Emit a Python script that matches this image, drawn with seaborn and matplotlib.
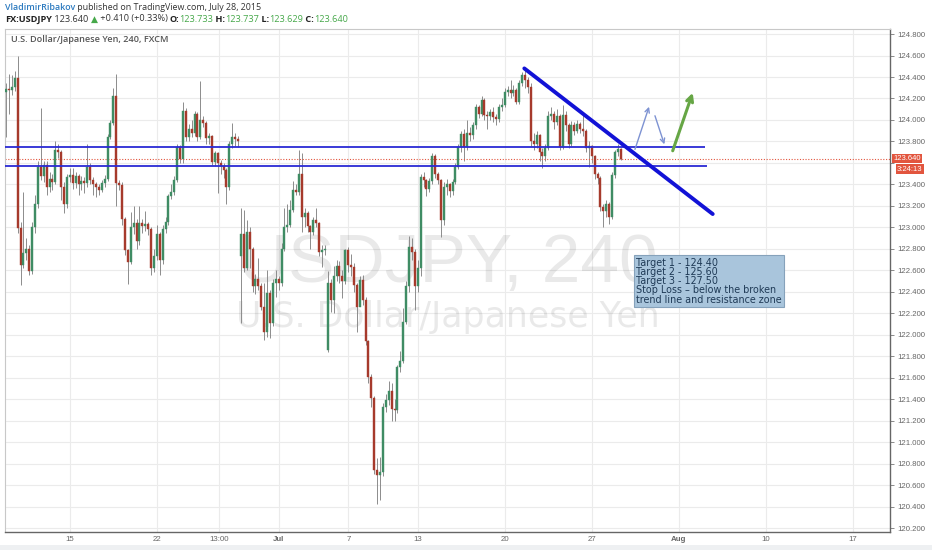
import matplotlib
matplotlib.use('Agg')
import matplotlib.pyplot as plt
import matplotlib.transforms as mtransforms
from matplotlib.patches import Rectangle
import numpy as np
import seaborn as sns

# USD/JPY 240-minute bars (FXCM), Jun 9 - Jul 28 2015
first_open = 124.26
closes = [
    124.29, 124.28, 124.31, 124.39, 122.99, 122.65, 122.76, 122.80, 122.59, 123.00,
    123.22, 123.56, 123.48, 123.58, 123.38, 123.45, 123.42, 123.72, 123.70, 123.38,
    123.22, 123.47, 123.49, 123.41, 123.48, 123.40, 123.43, 123.41, 123.56, 123.44,
    123.40, 123.38, 123.35, 123.41, 123.45, 123.84, 123.97, 124.22, 123.41, 123.39,
    123.08, 122.79, 122.68, 123.00, 123.04, 122.87, 123.04, 123.01, 123.03, 122.98,
    122.62, 122.73, 122.94, 122.70, 122.98, 123.05, 123.29, 123.33, 123.44, 123.75,
    123.64, 124.08, 123.84, 123.92, 123.88, 124.06, 123.84, 124.00, 123.97, 123.83,
    123.85, 123.61, 123.69, 123.60, 123.57, 123.53, 123.38, 123.78, 123.84, 123.82,
    123.80, 122.94, 122.62, 122.96, 122.80, 122.45, 122.52, 122.45, 122.26, 122.03,
    122.39, 122.11, 122.48, 122.52, 122.48, 122.80, 123.00, 123.02, 123.16, 123.35,
    123.33, 123.50, 123.10, 123.13, 123.01, 122.96, 123.07, 123.04, 122.77, 122.79,
    122.80, 122.48, 122.32, 122.55, 122.64, 122.55, 122.50, 122.79, 122.65, 122.63,
    122.46, 122.26, 122.51, 122.32, 121.94, 121.61, 121.41, 120.74, 120.69, 120.72,
    121.33, 121.39, 121.48, 121.31, 121.30, 121.70, 121.76, 122.12, 122.45, 122.82,
    122.77, 122.45, 122.62, 123.47, 123.44, 123.36, 123.43, 123.66, 123.50, 123.44,
    123.07, 123.38, 123.40, 123.34, 123.42, 123.56, 123.75, 123.87, 123.75, 123.88,
    123.86, 123.95, 124.12, 124.06, 124.19, 124.05, 124.04, 124.07, 124.03, 124.01,
    124.12, 124.14, 124.26, 124.28, 124.25, 124.28, 124.17, 124.34, 124.42, 124.37,
    124.31, 123.80, 123.78, 123.86, 123.70, 123.66, 123.74, 124.04, 124.06, 123.98,
    124.04, 123.75, 124.05, 123.95, 123.78, 123.95, 123.90, 123.96, 123.92, 123.90,
    123.74, 123.76, 123.66, 123.50, 123.46, 123.19, 123.15, 123.22, 123.10, 123.49,
    123.70, 123.733, 123.640,
]
highs = [
    124.34, 124.43, 124.42, 124.46, 124.60, 123.05, 123.33, 122.90, 122.84, 123.05,
    123.30, 123.62, 124.11, 123.62, 123.62, 123.52, 123.50, 123.80, 123.78, 123.72,
    123.42, 123.50, 123.55, 123.55, 123.52, 123.50, 123.48, 123.47, 123.78, 123.60,
    123.47, 123.42, 123.40, 123.44, 123.49, 123.87, 124.00, 124.30, 124.43, 123.44,
    123.42, 123.10, 122.80, 123.14, 123.20, 123.08, 123.20, 123.08, 123.15, 123.05,
    123.00, 122.80, 123.02, 122.96, 123.02, 123.10, 123.31, 123.40, 123.48, 123.78,
    123.77, 124.17, 124.11, 123.96, 124.00, 124.08, 124.07, 124.36, 124.04, 123.99,
    123.88, 123.86, 123.71, 123.70, 123.63, 123.60, 123.55, 123.80, 123.97, 123.88,
    123.85, 123.18, 123.16, 123.07, 123.00, 122.82, 122.57, 122.71, 122.48, 122.48,
    122.60, 122.42, 122.52, 122.60, 122.55, 122.85, 123.18, 123.22, 123.25, 123.43,
    123.40, 123.72, 123.69, 123.18, 123.15, 123.02, 123.10, 123.18, 123.05, 122.84,
    122.84, 122.59, 122.52, 122.64, 122.70, 122.69, 122.60, 122.80, 122.82, 122.75,
    122.67, 122.48, 122.55, 122.56, 122.35, 121.95, 121.63, 121.43, 120.85, 120.86,
    121.36, 121.45, 121.57, 121.55, 121.40, 121.72, 121.85, 122.25, 122.50, 122.92,
    122.90, 122.80, 122.70, 123.50, 123.52, 123.45, 123.46, 123.69, 123.68, 123.52,
    123.45, 123.42, 123.45, 123.41, 123.45, 123.60, 123.78, 123.90, 123.92, 124.00,
    123.93, 123.98, 124.15, 124.14, 124.22, 124.20, 124.08, 124.10, 124.12, 124.06,
    124.15, 124.20, 124.30, 124.32, 124.37, 124.33, 124.30, 124.37, 124.45, 124.47,
    124.40, 124.34, 123.88, 123.90, 123.87, 123.74, 123.78, 124.08, 124.12, 124.08,
    124.10, 124.06, 124.14, 124.08, 123.97, 123.99, 123.98, 124.00, 123.98, 124.05,
    123.92, 123.80, 123.77, 123.67, 123.52, 123.48, 123.22, 123.25, 123.24, 123.52,
    123.72, 123.78, 123.737,
]
lows = [
    123.84, 124.06, 124.23, 124.27, 122.95, 122.46, 122.62, 122.70, 122.56, 122.57,
    122.95, 123.18, 123.44, 123.42, 123.30, 123.33, 123.35, 123.40, 123.65, 123.25,
    123.13, 123.18, 123.42, 123.36, 123.37, 123.30, 123.35, 123.32, 123.38, 123.40,
    123.30, 123.28, 123.30, 123.33, 123.38, 123.43, 123.82, 123.95, 123.20, 123.35,
    123.02, 122.74, 122.47, 122.66, 122.94, 122.80, 122.84, 122.95, 122.97, 122.93,
    122.56, 122.58, 122.70, 122.56, 122.66, 122.95, 123.02, 123.26, 123.30, 123.42,
    123.60, 123.60, 123.80, 123.80, 123.84, 123.85, 123.80, 123.82, 123.93, 123.78,
    123.78, 123.58, 123.57, 123.32, 123.50, 123.46, 123.22, 123.35, 123.74, 123.76,
    123.75, 122.11, 122.58, 122.60, 122.62, 122.40, 122.38, 122.42, 122.23, 121.95,
    121.98, 121.97, 122.08, 122.35, 122.42, 122.45, 122.78, 122.96, 123.00, 123.14,
    123.30, 123.30, 122.96, 123.00, 122.96, 122.80, 122.93, 123.00, 122.73, 122.63,
    122.74, 121.84, 122.21, 122.20, 122.50, 122.48, 122.34, 122.47, 122.58, 122.55,
    122.40, 122.03, 122.30, 122.28, 121.90, 121.55, 121.33, 120.70, 120.42, 120.46,
    120.68, 121.28, 121.35, 121.20, 121.20, 121.27, 121.65, 121.74, 122.10, 122.40,
    122.70, 122.23, 122.40, 122.55, 123.38, 123.29, 123.33, 123.40, 123.46, 123.40,
    122.91, 123.02, 123.30, 123.28, 123.30, 123.40, 123.54, 123.70, 123.62, 123.72,
    123.80, 123.82, 123.92, 124.02, 124.04, 124.00, 123.92, 124.00, 123.98, 123.95,
    123.98, 124.08, 124.12, 124.22, 124.20, 124.22, 124.15, 124.15, 124.32, 124.30,
    124.25, 123.76, 123.72, 123.74, 123.62, 123.55, 123.62, 123.72, 124.00, 123.92,
    123.95, 123.72, 123.73, 123.90, 123.74, 123.76, 123.86, 123.88, 123.88, 123.85,
    123.70, 123.56, 123.60, 123.45, 123.40, 123.15, 123.00, 123.10, 123.03, 123.08,
    123.46, 123.66, 123.629,
]
# bars that open with a weekend gap (bar index -> open)
gap_opens = {81: 122.73, 111: 121.86}

# x axis in trading days counted from Mon Jun 15, weekends skipped
first_bar_day = -3.68
bars_per_day = 6
tick_days = [0, 5, 8.54, 12, 16, 20, 25, 30, 35, 40, 45]
tick_labels = ['15', '22', '13:00', 'Jul', '7', '13', '20', '27', 'Aug', '10', '17']
price_ticks = np.round(np.arange(120.2, 124.81, 0.2), 1)

# drawings on the chart
resistance_levels = [123.745, 123.574]
resistance_end_days = [36.5, 36.6]
trend_days = [26.11, 36.94]
trend_prices = [124.48, 123.124]
blue_arrows = [((32.47, 123.726), (33.28, 124.123)),
               ((33.62, 124.039), (34.16, 123.773))]
green_arrow = ((34.64, 123.713), (35.79, 124.253))
last_price = 123.640
countdown = '3:24:13'
note = ('Target 1 - 124.40\nTarget 2 - 125.60\nTarget 3 - 127.50\n'
        'Stop Loss \u2013 below the broken\ntrend line and resistance zone')

sns.set_style('white')
plt.rcParams['font.family'] = ['Open Sans', 'DejaVu Sans']

W, H = 932, 550
fig = plt.figure(figsize=(W / 100, H / 100), dpi=100)
ax = fig.add_axes([5 / W, 1 - 532 / H, 885 / W, 503 / H])
xmin, xmax = -3.74, 47.13
ax.set_xlim(xmin, xmax)
ax.set_ylim(120.163, 124.847)

# build opens: each bar opens where the previous one closed, except gaps
opens = []
prev = first_open
for i, c in enumerate(closes):
    opens.append(gap_opens.get(i, prev))
    prev = c
o = np.array(opens)
c = np.array(closes)
x = first_bar_day + np.arange(len(closes)) / bars_per_day
colors = np.where(c >= o, '#3f8c64', '#a63a2c')

ax.vlines(x, lows, highs, color='#8c8c8c', lw=0.7, zorder=2)
ax.bar(x, np.maximum(np.abs(c - o), 0.007), bottom=np.minimum(o, c), width=0.115,
       color=colors, edgecolor=colors, lw=0.3, zorder=3)

# watermark
ax.text(0.5, 0.497, 'USDJPY, 240', transform=ax.transAxes, ha='center', va='baseline',
        fontsize=50, family='Liberation Sans', color='black', alpha=0.085, zorder=1)
ax.text(0.5, 0.4076, 'U.S. Dollar/Japanese Yen', transform=ax.transAxes, ha='center',
        va='baseline', fontsize=25, family='DejaVu Sans', color='black', alpha=0.085, zorder=1)

# current price line
ax.axhline(last_price, color='#e2553e', lw=0.8, ls=(0, (1, 1.5)), zorder=2.5)

# resistance zone and trend line
for lvl, end in zip(resistance_levels, resistance_end_days):
    ax.hlines(lvl, xmin, end, color='#2a2ad4', lw=1.3, zorder=4)
sns.lineplot(x=trend_days, y=trend_prices, ax=ax, color='#1212d6', lw=2.8, zorder=5)

for start, end in blue_arrows:
    ax.annotate('', xy=end, xytext=start, zorder=5,
                arrowprops=dict(arrowstyle='->', color='#7d92d2', lw=1.0,
                                mutation_scale=8, shrinkA=0, shrinkB=0))
ax.annotate('', xy=green_arrow[1], xytext=green_arrow[0], zorder=5,
            arrowprops=dict(arrowstyle='->', color='#66a645', lw=2.2,
                            mutation_scale=11, shrinkA=0, shrinkB=0))

ax.text(32.53, 122.716, note, fontsize=6.9, family='DejaVu Sans', color='#1f3a56',
        va='top', ha='left', linespacing=0.9, zorder=6,
        bbox=dict(boxstyle='square,pad=0.25', facecolor='#a9c5dc', edgecolor='#86a2bb', lw=0.8))

# axes, grid, ticks
ax.set_xticks(tick_days)
ax.set_xticklabels(tick_labels)
ax.set_yticks(price_ticks)
# the 123.600 label sits under the last-price badge, so it is left blank
ax.set_yticklabels(['' if abs(p - 123.6) < 1e-6 else '{:.3f}'.format(p) for p in price_ticks])
ax.yaxis.tick_right()
ax.set_axisbelow(True)
ax.grid(True, color='#ebebeb', lw=0.8)
ax.tick_params(axis='y', which='both', right=True, length=3, width=0.6, color='#777',
               pad=2, labelsize=5.6, labelcolor='#666')
ax.tick_params(axis='x', length=0, pad=3, labelsize=5.7, labelcolor='#666')
for lab in ax.get_xticklabels() + ax.get_yticklabels():
    lab.set_family('Liberation Sans')
for lab in ax.get_xticklabels():
    if lab.get_text() in ('Jul', 'Aug'):
        lab.set_fontweight('bold')
for side in ('right', 'bottom'):
    ax.spines[side].set_color('#666')
    ax.spines[side].set_linewidth(1.0)
for side in ('top', 'left'):
    ax.spines[side].set_color('#c8c8c8')
    ax.spines[side].set_linewidth(0.8)

# price and countdown badges on the price scale
blend = mtransforms.blended_transform_factory(ax.transAxes, ax.transData)
ax.text(1.004, last_price, '{:.3f}'.format(last_price), transform=blend, ha='left',
        va='center', fontsize=5.5, family='Liberation Sans', color='white', zorder=7,
        clip_on=False,
        bbox=dict(boxstyle='square,pad=0.15', facecolor='#e2553e', edgecolor='none'))
ax.text(1.008, 123.543, countdown, transform=blend, ha='left', va='center',
        fontsize=5.5, family='Liberation Sans', color='white', zorder=7, clip_on=False,
        bbox=dict(boxstyle='square,pad=0.15', facecolor='#e2553e', edgecolor='none'))

# header lines
renderer = fig.canvas.get_renderer()


def draw_runs(px, py, runs, size):
    for text, color, weight in runs:
        t = fig.text(px / W, 1 - py / H, text, color=color, fontweight=weight,
                     fontsize=size, va='center', ha='left')
        px += t.get_window_extent(renderer).width


draw_runs(5, 7.5, [('VladimirRibakov', '#2d7bc0', 'semibold'),
                   (' published on TradingView.com, July 28, 2015', '#333333', 'normal')], 6.4)
green = '#46a84a'
draw_runs(5, 19, [('FX:USDJPY', '#222222', 'bold'), (' 123.640 ', '#333333', 'normal'),
                  ('\u25b2', green, 'normal'), (' +0.410 (+0.33%) ', '#333333', 'normal'),
                  ('O:', '#222222', 'bold'), ('123.733', green, 'normal'),
                  (' H:', '#222222', 'bold'), ('123.737', green, 'normal'),
                  (' L:', '#222222', 'bold'), ('123.629', green, 'normal'),
                  (' C:', '#222222', 'bold'), ('123.640', green, 'normal')], 6.55)
fig.text(11 / W, 1 - 40 / H, 'U.S. Dollar/Japanese Yen, 240, FXCM', color='#555555',
         fontsize=6.6, fontweight='semibold', va='center', ha='left')

fig.patches.append(Rectangle((0, 0), 1, 5 / H, transform=fig.transFigure,
                             facecolor='#eef0f2', edgecolor='none'))

fig.savefig('out.png', dpi=100)
